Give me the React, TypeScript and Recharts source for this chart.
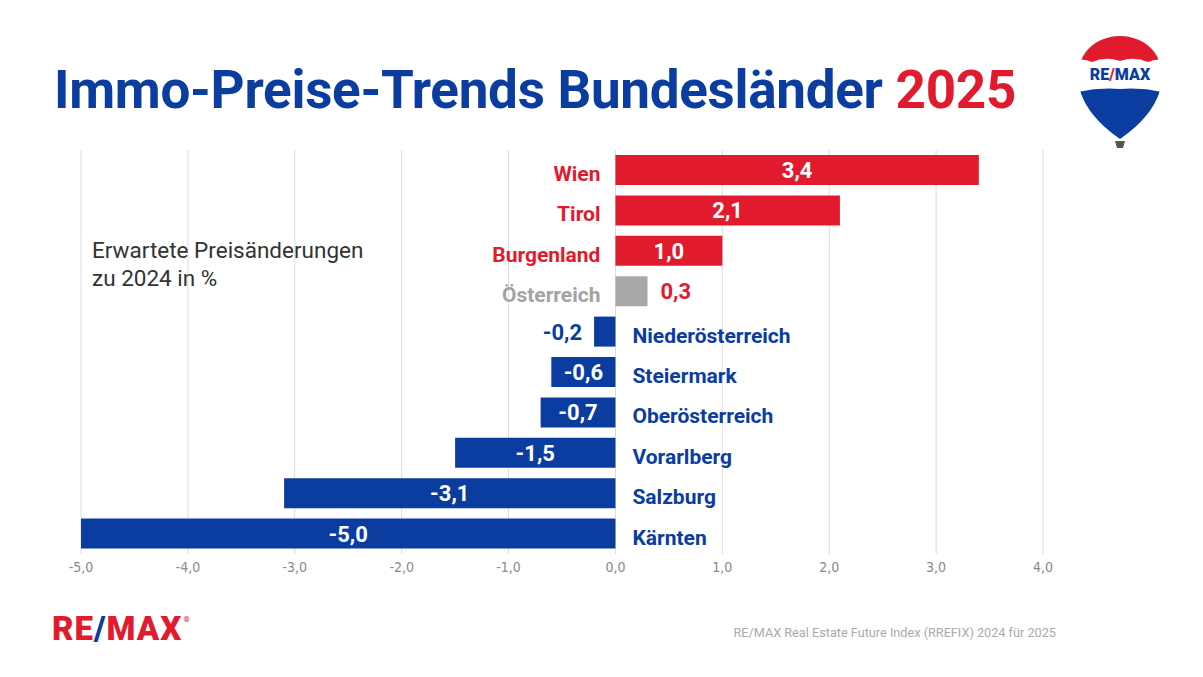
import React from 'react';
import { BarChart, Bar, XAxis, YAxis, CartesianGrid, Cell, LabelList } from 'recharts';

const regions = ['Wien', 'Tirol', 'Burgenland', 'Österreich', 'Niederösterreich', 'Steiermark', 'Oberösterreich', 'Vorarlberg', 'Salzburg', 'Kärnten'];
const changes = [3.4, 2.1, 1.0, 0.3, -0.2, -0.6, -0.7, -1.5, -3.1, -5.0];
const xTicks = [-5, -4, -3, -2, -1, 0, 1, 2, 3, 4];

const RED = '#e11b2d';
const BLUE = '#0b3c9f';
const GRAY_BAR = '#a8a8a8';
const GRAY_TEXT = '#a3a3a3';
const FONT = 'Roboto, "Noto Sans", sans-serif';

const data = regions.map((name, i) => ({ name, value: changes[i] }));

const fmt = (v: number) => v.toFixed(1).replace('.', ',');

const barColor = (name: string, v: number) => (name === 'Österreich' ? GRAY_BAR : v >= 0 ? RED : BLUE);

// value label: inside the bar (white) when it fits, otherwise next to it
const ValueLabel = (props: any) => {
  const { x, y, width, height, index } = props;
  const v = changes[index];
  const left = Math.min(x, x + width);
  const w = Math.abs(width);
  const cy = y + height / 2;
  if (w > 45) {
    return (
      <text x={left + w / 2} y={cy + 8} textAnchor="middle" fill="#fff" fontFamily={FONT} fontWeight={700} fontSize={22}>
        {fmt(v)}
      </text>
    );
  }
  if (v >= 0) {
    return (
      <text x={left + w + 13} y={cy + 8} textAnchor="start" fill={RED} fontFamily={FONT} fontWeight={700} fontSize={22}>
        {fmt(v)}
      </text>
    );
  }
  return (
    <text x={left - 12} y={cy + 8} textAnchor="end" fill={BLUE} fontFamily={FONT} fontWeight={700} fontSize={22}>
      {fmt(v)}
    </text>
  );
};

// region name sits on the other side of the zero line
const NameLabel = (props: any) => {
  const { x, y, width, height, index } = props;
  const v = changes[index];
  const name = regions[index];
  const zero = v >= 0 ? Math.min(x, x + width) : Math.max(x, x + width);
  const cy = y + height / 2;
  if (v >= 0) {
    return (
      <text x={zero - 15} y={cy + 11} textAnchor="end" fill={name === 'Österreich' ? GRAY_TEXT : RED} fontFamily={FONT} fontWeight={700} fontSize={21}>
        {name}
      </text>
    );
  }
  return (
    <text x={zero + 17} y={cy + 11} textAnchor="start" fill={BLUE} fontFamily={FONT} fontWeight={700} fontSize={21}>
      {name}
    </text>
  );
};

const Balloon = () => (
  <svg width={100} height={130} style={{ position: 'absolute', left: 1070, top: 28 }} viewBox="1070 28 100 130">
    <defs>
      <clipPath id="env">
        <path d="M1120,139 C1098,124 1078,102 1078,76 C1078,52 1097,36 1120,36 C1143,36 1162,52 1162,76 C1162,102 1142,124 1120,139 Z" />
      </clipPath>
    </defs>
    <g clipPath="url(#env)">
      <rect x={1070} y={30} width={100} height={112} fill="#fff" />
      <path d="M1070,30 L1170,30 L1170,62 Q1158,57 1148,62 Q1134,56 1120,61 Q1106,56 1092,62 Q1082,57 1070,62 Z" fill={RED} />
      <path d="M1070,94 Q1095,87 1120,89 Q1145,87 1170,94 L1170,142 L1070,142 Z" fill={BLUE} />
    </g>
    <text x={1120} y={80} textAnchor="middle" fontFamily={FONT} fontWeight={900} fontSize={16} fill={BLUE}>
      RE<tspan fill={RED}>/</tspan>MAX
    </text>
    <path d="M1115,141 L1125,141 L1123,148 L1117,148 Z" fill="#555" />
  </svg>
);

export default function App() {
  return (
    <div style={{ position: 'absolute', left: 0, top: 0, width: 1203, height: 677, background: '#fff', fontFamily: FONT, overflow: 'hidden' }}>
      <div style={{ position: 'absolute', left: 54, top: 59, fontSize: 53, fontWeight: 700, color: BLUE, whiteSpace: 'nowrap', letterSpacing: -0.3 }}>
        Immo-Preise-Trends Bundesländer <span style={{ color: RED }}>2025</span>
      </div>
      <Balloon />
      <div style={{ position: 'absolute', left: 0, top: 0 }}>
        <BarChart width={1203} height={677} data={data} layout="vertical" margin={{ top: 150, right: 160, bottom: 93, left: 81 }} barCategoryGap={5}>
          <CartesianGrid horizontal={false} stroke="#dcdcdc" />
          <XAxis
            type="number"
            domain={[-5, 4]}
            ticks={xTicks}
            interval={0}
            axisLine={false}
            tickLine={false}
            height={30}
            tickFormatter={(v: number) => fmt(v)}
            tick={{ fill: '#8a8a8a', fontSize: 14, fontFamily: '"Liberation Sans Narrow", "DejaVu Sans Condensed", sans-serif' }}
          />
          <YAxis type="category" dataKey="name" hide />
          <Bar dataKey="value" isAnimationActive={false}>
            {data.map((d, i) => (
              <Cell key={`c-${i}`} fill={barColor(d.name, d.value)} />
            ))}
            <LabelList dataKey="value" content={ValueLabel} />
            <LabelList dataKey="name" content={NameLabel} />
          </Bar>
        </BarChart>
      </div>
      <div style={{ position: 'absolute', left: 92, top: 236, fontSize: 22.5, lineHeight: '28px', color: '#333' }}>
        Erwartete Preisänderungen
        <br />
        zu 2024 in %
      </div>
      <div style={{ position: 'absolute', left: 52, top: 609, fontSize: 33, fontWeight: 900, color: RED, whiteSpace: 'nowrap', letterSpacing: 1 }}>
        RE<span style={{ color: BLUE }}>/</span>MAX
        <span style={{ fontSize: 8, verticalAlign: 'top', position: 'relative', top: 6, marginLeft: 1 }}>®</span>
      </div>
      <div style={{ position: 'absolute', right: 1203 - 1056, top: 625, fontSize: 12.7, color: '#aaa', whiteSpace: 'nowrap' }}>
        RE/MAX Real Estate Future Index (RREFIX) 2024 für 2025
      </div>
    </div>
  );
}
